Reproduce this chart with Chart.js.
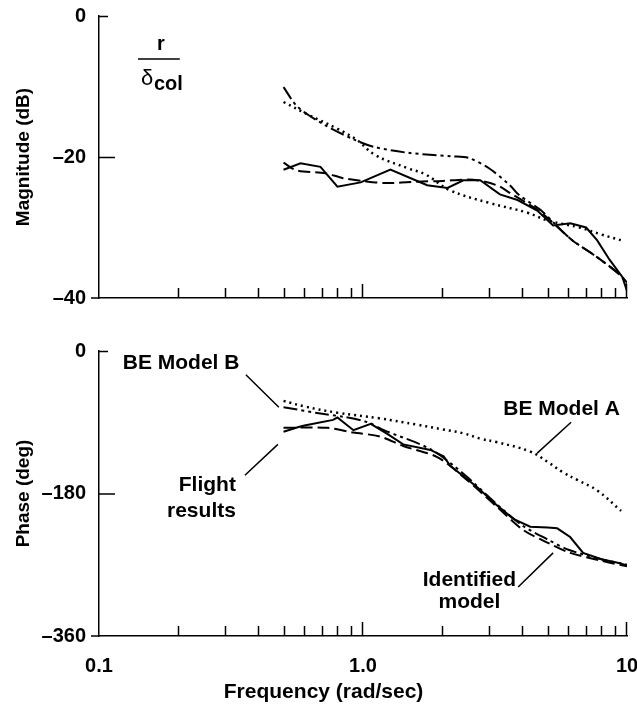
<!DOCTYPE html>
<html lang="en">
<head>
<meta charset="UTF-8">
<title>r / δcol frequency response</title>
<script src="https://cdn.jsdelivr.net/npm/chart.js@4.4.1/dist/chart.umd.min.js"></script>
<style>
  html, body { margin: 0; padding: 0; background: #fff; }
  #wrap { position: relative; width: 637px; height: 707px; background: #fff; }
  canvas { position: absolute; left: 0; }
  #magChart { top: 0; }
  #phaseChart { top: 330px; }
</style>
</head>
<body>
<div id="wrap">
  <canvas id="magChart" width="637" height="330"></canvas>
  <canvas id="phaseChart" width="637" height="377"></canvas>
</div>
<script>
// frequency axis (rad/sec, log)
const freqTicks = [0.1, 1, 10];
const freqTickLabels = ['0.1', '1.0', '10'];
const minorFreqs = [0.2, 0.3, 0.4, 0.5, 0.6, 0.7, 0.8, 0.9, 2, 3, 4, 5, 6, 7, 8, 9];
const majorFreqs = [1, 10];

// magnitude axis
const magTicks = [-40, -20, 0];
const magTickLabels = ['\u201340', '\u201320', '0'];

// phase axis
const phaseTicks = [-360, -180, 0];
const phaseTickLabels = ['\u2013360', '\u2013180', '0'];

// Magnitude (dB)
const magFlightFreq = [0.5, 0.58, 0.69, 0.8, 0.98, 1.27, 1.75, 2.09, 2.4, 2.78, 3.3, 3.85, 4.57, 5.25, 6.1, 7.0, 7.7, 8.6, 9.6, 10];
const magFlight = [-21.8, -20.9, -21.4, -24.2, -23.6, -21.8, -24.0, -24.4, -23.3, -23.3, -25.3, -26.1, -27.6, -29.7, -29.4, -30.0, -31.8, -34.6, -37.0, -39.0];

const magIdentFreq = [0.5, 0.56, 0.72, 0.84, 1.0, 1.22, 1.6, 2.0, 2.5, 2.9, 3.3, 3.6, 4.2, 4.7, 5.2, 6.2, 7.7, 9.4, 10];
const magIdent = [-20.8, -21.9, -22.3, -23.0, -23.4, -23.7, -23.5, -23.4, -23.2, -23.5, -24.2, -25.1, -26.6, -27.8, -29.2, -31.8, -34.2, -36.7, -37.8];

const magModelAFreq = [0.5, 0.62, 0.8, 0.95, 1.11, 1.48, 1.73, 2.13, 3.0, 4.2, 5.0, 6.6, 8.0, 9.7];
const magModelA = [-12.2, -14.0, -16.0, -17.6, -19.7, -21.6, -22.5, -24.7, -26.5, -27.9, -29.0, -30.0, -31.0, -31.9];

const magModelBFreq = [0.5, 0.566, 0.72, 0.935, 1.11, 1.48, 2.17, 2.5, 3.0, 3.6, 3.9, 4.7, 5.3, 6.2, 7.7, 9.4, 10];
const magModelB = [-10.1, -12.9, -15.5, -17.6, -18.6, -19.4, -19.9, -20.1, -21.6, -24.0, -25.4, -27.5, -29.4, -31.8, -34.2, -36.7, -38.0];

// Phase (deg)
const phaseFlightFreq = [0.5, 0.57, 0.6, 0.77, 0.8, 0.92, 1.07, 1.24, 1.42, 1.8, 2.02, 2.14, 2.71, 3.22, 3.71, 4.3, 5.0, 5.44, 6.09, 6.82, 8.0, 9.4, 10];
const phaseFlight = [-102, -96, -94, -87, -84, -100, -92, -105, -118, -125, -133, -145, -172, -195, -212, -222, -223, -224, -235, -255, -263, -268, -271];

const phaseIdentFreq = [0.5, 0.73, 0.92, 1.16, 1.42, 1.91, 2.4, 3.22, 4.04, 4.99, 6.09, 8.0, 10];
const phaseIdent = [-97, -97, -103, -108, -120, -134, -159, -197, -226, -242, -255, -265, -272];

const phaseModelAFreq = [0.5, 0.6, 0.8, 1.15, 1.6, 2.0, 2.4, 2.8, 3.2, 4.3, 5.0, 5.7, 6.5, 7.7, 9.5];
const phaseModelA = [-63, -70, -78, -85, -93, -99, -104, -111, -115, -127, -140, -153, -163, -176, -202];

const phaseModelBFreq = [0.5, 0.69, 0.84, 1.04, 1.2, 1.8, 2.4, 3.2, 4.0, 5.0, 6.0, 8.0, 10];
const phaseModelB = [-71, -79, -83, -90, -100, -124, -155, -193, -220, -238, -251, -263, -270];

// annotations
const phaseNotes = ['BE Model B', 'Flight', 'results', 'BE Model A', 'Identified', 'model'];
const phaseNoteAt = [[0.123, -15, 'left'], [0.33, -169, 'right'], [0.33, -202, 'right'], [9.4, -73, 'right'], [2.53, -289, 'center'], [2.53, -317, 'center']];
const phaseLeaders = [[0.36, -30, 0.48, -71], [0.357, -157, 0.476, -118], [6.14, -90, 4.57, -129], [3.87, -298, 5.25, -255]];

const FONT = "'Liberation Sans', Arial, Helvetica, sans-serif";
const tickFont = { family: FONT, size: 20, weight: 'bold' };
const titleFont = { family: FONT, size: 19, weight: 'bold' };

const styles = {
  flight: { w: 2, dash: [], t: 0 },
  ident: { w: 2, dash: [12, 5], t: 0.3 },
  modelA: { w: 2.5, dash: [2, 4], t: 0.4 },
  modelB: { w: 2, dash: [14, 4, 3, 4, 3, 4], t: 0.3 }
};

function series(label, freqs, vals, s) {
  return {
    label: label,
    data: freqs.map((f, i) => ({ x: f, y: vals[i] })),
    borderColor: '#000',
    borderWidth: s.w,
    borderDash: s.dash,
    tension: s.t,
    fill: false,
    pointRadius: 0
  };
}

// ticks drawn inward like the original plot
const inTicks = {
  id: 'inTicks',
  afterDraw(chart, args, opts) {
    const { ctx, chartArea } = chart;
    const x = chart.scales.x, y = chart.scales.y;
    ctx.save();
    ctx.strokeStyle = '#000';
    ctx.lineWidth = 1.5;
    ctx.beginPath();
    minorFreqs.forEach(f => {
      const px = Math.round(x.getPixelForValue(f)) + 0.5;
      ctx.moveTo(px, chartArea.bottom);
      ctx.lineTo(px, chartArea.bottom - 10);
    });
    majorFreqs.forEach(f => {
      const px = Math.round(x.getPixelForValue(f)) - 0.5;
      ctx.moveTo(px, chartArea.bottom);
      ctx.lineTo(px, chartArea.bottom - 14);
    });
    const yt = opts.yTicks;
    const top = y.getPixelForValue(yt[2]);
    const mid = y.getPixelForValue(yt[1]);
    const bot = y.getPixelForValue(yt[0]);
    ctx.moveTo(chartArea.left, top + 0.5);
    ctx.lineTo(chartArea.left + 9, top + 0.5);
    ctx.moveTo(chartArea.left, mid + 0.5);
    ctx.lineTo(chartArea.left + 16, mid + 0.5);
    ctx.moveTo(chartArea.left - 8, bot);
    ctx.lineTo(chartArea.left, bot);
    ctx.stroke();
    ctx.restore();
  }
};

const notes = {
  id: 'notes',
  afterDraw(chart, args, opts) {
    const { ctx, chartArea } = chart;
    const x = chart.scales.x, y = chart.scales.y;
    ctx.save();
    ctx.fillStyle = '#000';
    ctx.strokeStyle = '#000';
    ctx.lineWidth = 1.5;
    if (opts.kind === 'mag') {
      ctx.font = 'bold 20px ' + FONT;
      ctx.textAlign = 'center';
      ctx.textBaseline = 'middle';
      ctx.fillText('r', x.getPixelForValue(0.1716), y.getPixelForValue(-4.1));
      ctx.beginPath();
      ctx.moveTo(x.getPixelForValue(0.1405), y.getPixelForValue(-6.1));
      ctx.lineTo(x.getPixelForValue(0.2023), y.getPixelForValue(-6.1));
      ctx.stroke();
      ctx.textAlign = 'left';
      ctx.textBaseline = 'alphabetic';
      ctx.font = '22px ' + FONT;
      ctx.fillText('\u03b4', x.getPixelForValue(0.1441), y.getPixelForValue(-9.8));
      ctx.font = 'bold 20px ' + FONT;
      ctx.fillText('col', x.getPixelForValue(0.1614), y.getPixelForValue(-10.5));
    } else {
      ctx.beginPath();
      phaseLeaders.forEach(([f1, v1, f2, v2]) => {
        ctx.moveTo(x.getPixelForValue(f1), y.getPixelForValue(v1));
        ctx.lineTo(x.getPixelForValue(f2), y.getPixelForValue(v2));
      });
      ctx.stroke();
      ctx.font = 'bold 21px ' + FONT;
      ctx.textBaseline = 'middle';
      phaseNotes.forEach((t, i) => {
        const [f, v, align] = phaseNoteAt[i];
        ctx.textAlign = align;
        ctx.fillText(t, x.getPixelForValue(f), y.getPixelForValue(v));
      });
      // x axis title
      ctx.textAlign = 'center';
      ctx.fillText('Frequency (rad/sec)', x.getPixelForValue(0.709), chartArea.bottom + 56);
    }
    ctx.restore();
  }
};

function makeChart(id, cfg) {
  return new Chart(document.getElementById(id), {
    type: 'line',
    data: { datasets: cfg.datasets },
    options: {
      responsive: false,
      animation: false,
      layout: { padding: { top: cfg.padTop, right: 10, left: 0, bottom: 0 } },
      plugins: {
        legend: { display: false },
        tooltip: { enabled: false },
        inTicks: { yTicks: cfg.yTicks },
        notes: { kind: cfg.kind }
      },
      scales: {
        x: {
          type: 'logarithmic',
          min: 0.1,
          max: 10,
          grid: { display: false, drawTicks: false },
          border: { display: true, color: '#000', width: 1.5 },
          ticks: {
            display: cfg.showX,
            color: '#000',
            font: tickFont,
            padding: 18,
            autoSkip: false,
            maxRotation: 0,
            callback: (v, i) => freqTickLabels[i]
          },
          afterBuildTicks: s => { s.ticks = freqTicks.map(v => ({ value: v })); },
          afterFit: s => {
            s.height = cfg.xHeight;
            s.paddingLeft = 0;
            s.paddingRight = 0;
          }
        },
        y: {
          type: 'linear',
          min: cfg.yTicks[0],
          max: 0,
          grid: { display: false, drawTicks: false },
          border: { display: true, color: '#000', width: 1.5 },
          ticks: {
            color: '#000',
            font: tickFont,
            padding: 13,
            autoSkip: false,
            callback: (v, i) => cfg.yLabels[i]
          },
          afterBuildTicks: s => { s.ticks = cfg.yTicks.map(v => ({ value: v })); },
          title: { display: true, text: cfg.yTitle, color: '#000', font: titleFont, padding: { top: 12, bottom: 0 } },
          afterFit: s => {
            s.width = 99;
            s.paddingTop = 0;
            s.paddingBottom = 0;
          }
        }
      }
    },
    plugins: [inTicks, notes]
  });
}

makeChart('magChart', {
  kind: 'mag',
  padTop: 16,
  xHeight: 32,
  showX: false,
  yTicks: magTicks,
  yLabels: magTickLabels,
  yTitle: 'Magnitude (dB)',
  datasets: [
    series('Flight results', magFlightFreq, magFlight, styles.flight),
    series('Identified model', magIdentFreq, magIdent, styles.ident),
    series('BE Model A', magModelAFreq, magModelA, styles.modelA),
    series('BE Model B', magModelBFreq, magModelB, styles.modelB)
  ]
});

makeChart('phaseChart', {
  kind: 'phase',
  padTop: 21,
  xHeight: 71,
  showX: true,
  yTicks: phaseTicks,
  yLabels: phaseTickLabels,
  yTitle: 'Phase (deg)',
  datasets: [
    series('Flight results', phaseFlightFreq, phaseFlight, styles.flight),
    series('Identified model', phaseIdentFreq, phaseIdent, styles.ident),
    series('BE Model A', phaseModelAFreq, phaseModelA, styles.modelA),
    series('BE Model B', phaseModelBFreq, phaseModelB, styles.modelB)
  ]
});
</script>
</body>
</html>
